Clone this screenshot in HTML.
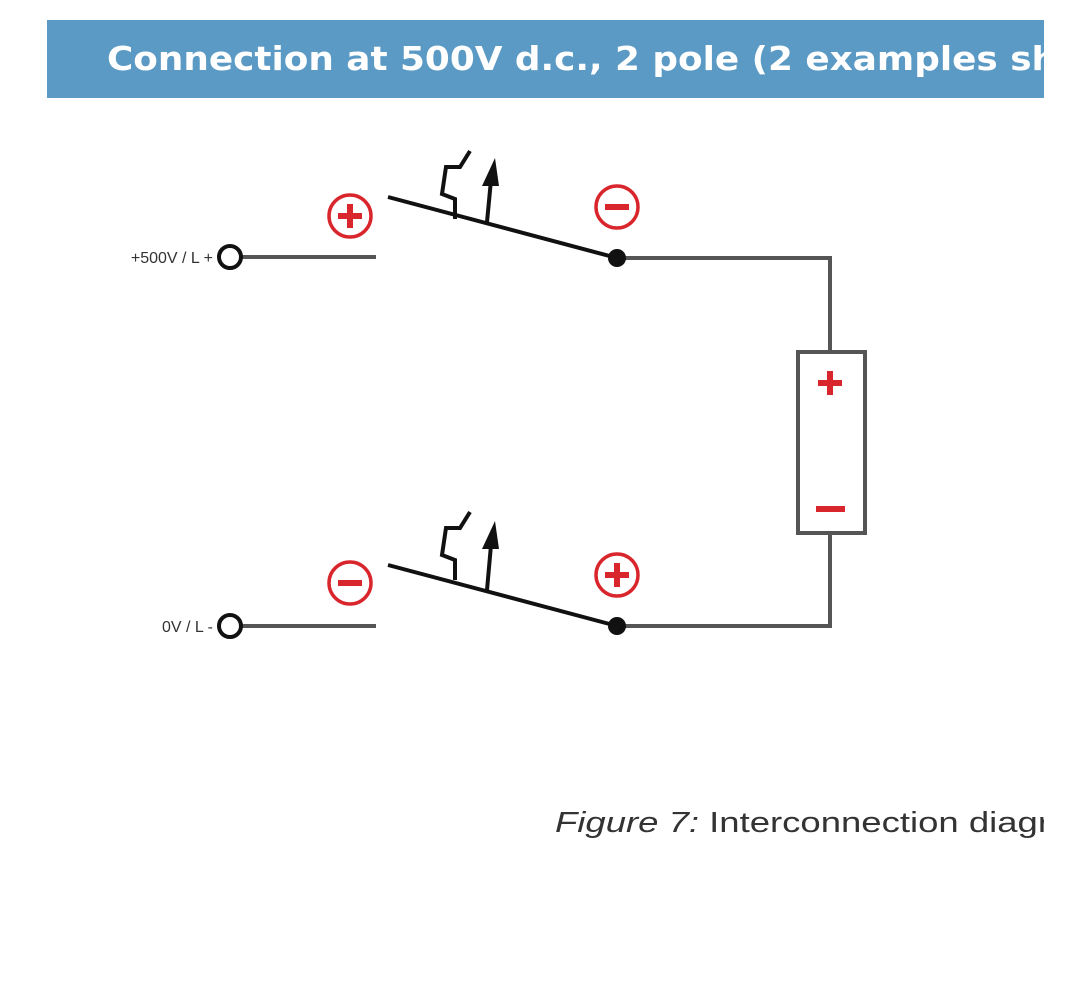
<!DOCTYPE html>
<html><head><style>
html,body{margin:0;padding:0;background:#fff;width:1080px;height:986px;overflow:hidden}
</style></head><body>
<svg width="1080" height="986" xmlns="http://www.w3.org/2000/svg" style="position:absolute;left:0;top:0">
<rect x="47" y="20" width="997" height="78" fill="#5b9ac4"/>
<text x="107" y="70" font-family="DejaVu Sans, sans-serif" font-weight="bold" font-size="33" fill="#fff" textLength="950" lengthAdjust="spacingAndGlyphs">Connection at 500V d.c., 2 pole (2 examples sh</text>
<rect x="1044" y="0" width="36" height="986" fill="#fff"/>

<g fill="none" stroke="#555" stroke-width="4">
<line x1="241" y1="257" x2="376" y2="257"/>
<polyline points="617,258 830,258 830,352"/>
<line x1="241" y1="626" x2="376" y2="626"/>
<polyline points="617,626 830,626 830,533"/>
<rect x="798" y="352" width="67" height="181"/>
</g>
<g fill="#fff" stroke="#111" stroke-width="4">
<circle cx="230" cy="257" r="11"/>
<circle cx="230" cy="626" r="11"/>
</g>
<g stroke="#111" stroke-width="4" fill="none">
<line x1="388" y1="197" x2="617" y2="258"/>
<line x1="388" y1="565" x2="617" y2="626"/>
<polyline points="455,219 455,199 442,194 446,167 460,167 470,151"/>
<polyline points="455,580 455,560 442,555 446,528 460,528 470,512"/>
<line x1="487" y1="222" x2="491" y2="180"/>
<line x1="487" y1="590" x2="491" y2="545"/>
</g>
<g fill="#111">
<polygon points="482,186 499,186 495,158"/>
<polygon points="482,549 499,549 495,521"/>
<circle cx="617" cy="258" r="9"/>
<circle cx="617" cy="626" r="9"/>
</g>
<g fill="none" stroke="#d9262c" stroke-width="3.5">
<circle cx="350" cy="216" r="21"/>
<circle cx="617" cy="207" r="21"/>
<circle cx="350" cy="583" r="21"/>
<circle cx="617" cy="575" r="21"/>
</g>
<g stroke="#d9262c" stroke-width="6">
<line x1="338" y1="216" x2="362" y2="216"/><line x1="350" y1="204" x2="350" y2="228"/>
<line x1="605" y1="207" x2="629" y2="207"/>
<line x1="338" y1="583" x2="362" y2="583"/>
<line x1="605" y1="575" x2="629" y2="575"/><line x1="617" y1="563" x2="617" y2="587"/>
<line x1="818" y1="383" x2="842" y2="383"/><line x1="830" y1="371" x2="830" y2="395"/>
<line x1="816" y1="509" x2="845" y2="509"/>
</g>
<g font-family="Liberation Sans, sans-serif" font-size="16" fill="#333" text-anchor="end">
<text x="213" y="263">+500V / L +</text>
<text x="213" y="632">0V / L -</text>
</g>
<text x="555" y="832" font-family="Liberation Sans, sans-serif" font-size="29" fill="#333" textLength="495" lengthAdjust="spacingAndGlyphs"><tspan font-style="italic">Figure 7:</tspan> Interconnection diagr</text>
<rect x="1044" y="790" width="36" height="60" fill="#fff"/>
</svg>
</body></html>
